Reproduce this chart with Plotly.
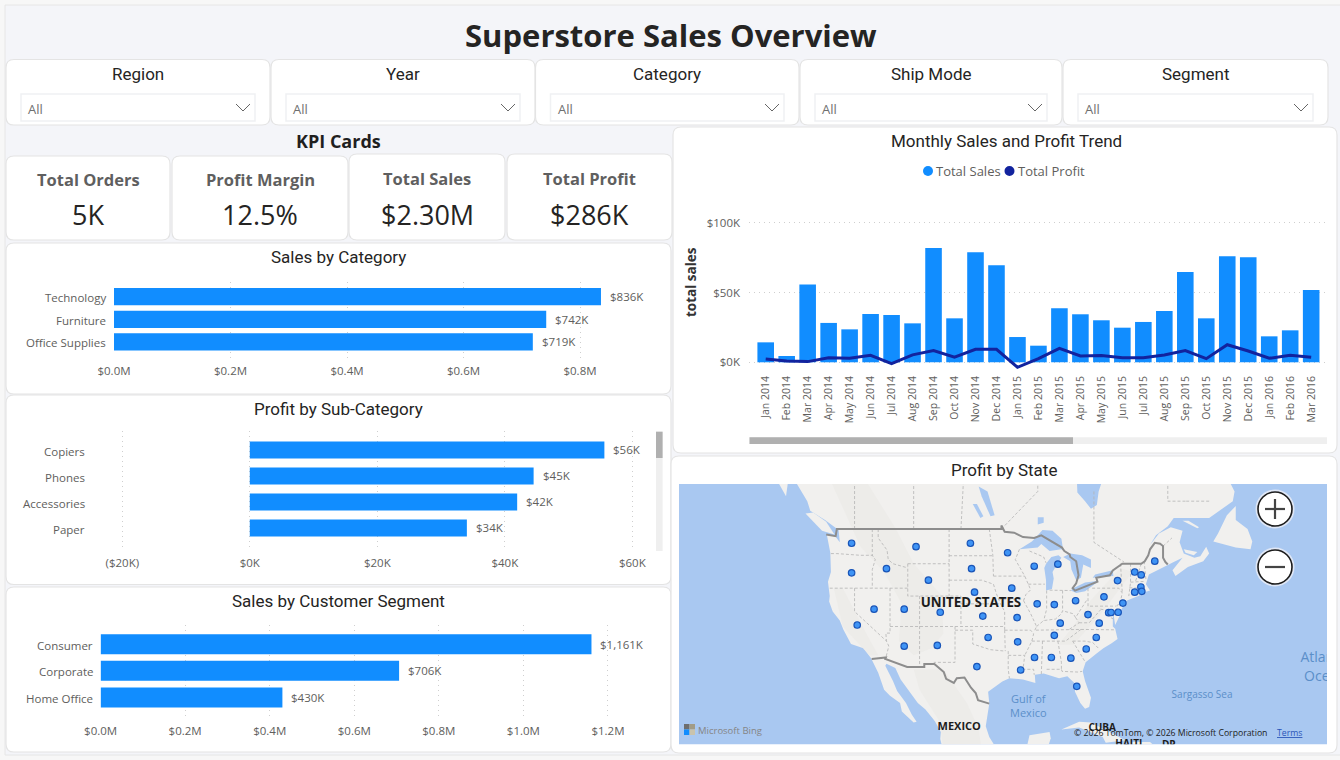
import numpy as np
import plotly.graph_objects as go

W, H = 1340, 760

# ---- chart data -------------------------------------------------------------
category_names = ["Technology", "Furniture", "Office Supplies"]
category_sales_k = [836, 742, 719]

subcat_names = ["Copiers", "Phones", "Accessories", "Paper"]
subcat_profit_k = [55.62, 44.52, 41.94, 34.05]

segment_names = ["Consumer", "Corporate", "Home Office"]
segment_sales_k = [1161, 706, 430]

months = ["Jan 2014", "Feb 2014", "Mar 2014", "Apr 2014", "May 2014", "Jun 2014", "Jul 2014",
          "Aug 2014", "Sep 2014", "Oct 2014", "Nov 2014", "Dec 2014", "Jan 2015", "Feb 2015",
          "Mar 2015", "Apr 2015", "May 2015", "Jun 2015", "Jul 2015", "Aug 2015", "Sep 2015",
          "Oct 2015", "Nov 2015", "Dec 2015", "Jan 2016", "Feb 2016", "Mar 2016"]
monthly_sales_k = [14.3, 4.5, 55.8, 28.2, 23.6, 34.6, 33.9, 27.9, 81.8, 31.5, 78.8, 69.5, 18.1, 11.9,
                   38.7, 34.4, 30.1, 24.8, 28.9, 36.8, 64.7, 31.5, 75.9, 75.2, 18.6, 22.9, 51.8]
monthly_profit_k = [2.4, 1.0, 0.5, 3.3, 2.9, 5.0, -1.0, 5.3, 8.4, 3.6, 9.3, 9.3, -3.6, 2.6,
                    10.0, 4.5, 4.8, 3.3, 3.3, 5.3, 8.4, 2.6, 12.6, 8.1, 2.9, 5.0, 3.6]

state_names = ["WA", "MT", "ND", "MN", "OR", "ID", "WY", "SD", "WI", "MI", "NE", "IA", "NV", "UT", "CO",
               "KS", "MO", "IL", "IN", "OH", "PA", "WV", "KY", "VA", "NJ", "DE", "MD", "DC", "CA", "AZ",
               "NM", "OK", "AR", "TN", "NC", "SC", "TX", "LA", "MS", "AL", "GA", "FL", "NY", "VT", "NH",
               "ME", "MA", "CT", "RI"]
state_lon = [-120.5, -109.6, -100.4, -94.1, -120.5, -114.6, -107.5, -100.2, -89.6, -85.6, -99.7, -93.4,
             -116.7, -111.6, -105.5, -98.3, -92.5, -89.1, -86.2, -82.6, -77.8, -80.5, -85.2, -78.6,
             -74.6, -75.4, -77.0, -76.6, -119.55, -111.6, -106.0, -97.4, -92.4, -86.2, -79.1, -80.8,
             -99.3, -91.9, -89.55, -86.7, -83.4, -82.4, -75.5, -72.6, -71.5, -69.2, -71.55, -72.6, -71.4]
state_lat = [47.4, 47.0, 47.4, 46.3, 43.9, 44.4, 43.0, 44.4, 44.7, 44.95, 41.5, 42.0,
             39.3, 39.3, 38.9, 38.4, 38.2, 40.0, 39.9, 40.4, 40.9, 38.6, 37.45, 37.45,
             40.1, 38.9, 38.85, 38.87, 37.2, 34.3, 34.4, 35.5, 34.9, 35.8, 35.5, 33.9,
             31.4, 30.9, 32.7, 32.7, 32.6, 28.5, 42.95, 44.0, 43.65, 45.3, 42.15, 41.5, 41.6]

# ---- basemap outlines as (lon, lat) -----------------------------------------
mainland = [(-133, 56), (-130, 54), (-128, 52), (-127.5, 51), (-125, 50), (-123.3, 49.2), (-122.7, 48.9),
            (-122.5, 47.5), (-123.2, 48.15), (-124.7, 48.4), (-124.1, 46.3), (-124, 44), (-124.5, 42.8),
            (-124.2, 41), (-124.3, 40.3), (-123.7, 39), (-122.5, 37.8), (-121.9, 36.6), (-120.6, 34.6),
            (-118.5, 34), (-117.2, 32.6), (-116, 30.5), (-115, 28), (-114, 27.1), (-112.3, 26), (-112, 24.7),
            (-110, 23), (-109.5, 23.1), (-110.3, 24.2), (-111.3, 26), (-112.8, 27.8), (-113.5, 29.3),
            (-114.8, 31.5), (-114.6, 31.8), (-113.1, 31.2), (-112.2, 29.5), (-110.9, 27.9), (-109.3, 26),
            (-108, 25), (-106.4, 23.2), (-105.4, 21.5), (-105.5, 20.4), (-105, 18.5), (-96.2, 18.5),
            (-96.2, 19.2), (-97.2, 20.7), (-97.8, 22.4), (-97.2, 25.9), (-97.4, 27.7), (-95, 29.2),
            (-93.8, 29.7), (-91.5, 29.5), (-89.4, 29), (-89.5, 30.2), (-88, 30.4), (-85.4, 29.7), (-84, 30),
            (-82.8, 29), (-82.7, 27.7), (-81.8, 26), (-81, 25.1), (-80.3, 25.4), (-80, 26.8), (-81, 29.3),
            (-81.4, 30.7), (-80.9, 32), (-79, 33.3), (-77.9, 34), (-76.5, 34.7), (-75.5, 35.3), (-75.9, 36.7),
            (-76.3, 37), (-76.3, 39.2), (-75.9, 37.2), (-75.1, 38.5), (-74.9, 39.2), (-74, 40.4), (-72, 41),
            (-71, 41.5), (-70, 41.7), (-70.7, 42.5), (-70.2, 43.7), (-68.5, 44.3), (-67, 44.9), (-66, 45.2),
            (-64.5, 45.7), (-66.2, 44.2), (-65.7, 43.5), (-63.6, 44.6), (-61, 45.3), (-60, 46.2), (-60.5, 47),
            (-61.5, 45.9), (-62.5, 45.7), (-64.3, 46.2), (-65, 47.5), (-64.5, 48.8), (-66.5, 49.2),
            (-68.5, 48.5), (-70, 47.2), (-69, 48.3), (-67, 49.3), (-66, 50.2), (-60, 50.2), (-57, 51.5),
            (-56, 52), (-55.7, 53), (-57, 54.5), (-57, 56), (-133, 56)]
newfoundland = [(-59.3, 47.6), (-55.5, 46.9), (-53, 46.7), (-52.7, 47.6), (-53.5, 49), (-55.5, 50),
                (-55.5, 51.5), (-57, 50.5), (-58.5, 48.5)]
vancouver_isl = [(-128.3, 50.7), (-125.5, 48.8), (-123.4, 48.4), (-124.8, 49.8), (-127, 50.8)]
haida_gwaii = [(-133, 54), (-131.6, 52.5), (-131.3, 53.8)]
cuba = [(-85, 21.9), (-82, 23.1), (-80, 23), (-75, 20.7), (-74.2, 20.2), (-77.5, 19.8), (-78, 20.7), (-82, 22.2)]
hispaniola = [(-74.5, 18.5), (-73, 19.9), (-70, 19.9), (-68.4, 18.6)]
yucatan = [(-91, 18.5), (-90.4, 21), (-87, 21.5), (-86.8, 20.5), (-87.5, 18.5)]
anticosti = [(-64.5, 49.9), (-62, 49.1), (-61.7, 49.2), (-63.5, 49.9)]
pei = [(-64.3, 46.7), (-62, 46.4), (-62.6, 46.0), (-64, 46.3)]

lake_superior = [(-92.1, 46.7), (-90, 47.6), (-89.4, 48), (-88.2, 48.9), (-86.5, 48.8), (-85, 47.9), (-84.7, 46.6),
                 (-85, 46.7), (-87, 46.5), (-88.4, 47.3), (-89, 46.9), (-90.8, 46.8)]
lake_michigan = [(-87.6, 41.7), (-86.6, 41.9), (-86.3, 43.2), (-86.5, 44), (-85.7, 45), (-85, 45.7), (-85.5, 46),
                 (-86.7, 45.8), (-87.6, 45), (-87.9, 44.5), (-87.6, 43)]
lake_huron = [(-84.7, 45.8), (-83.5, 45.3), (-83.3, 44.3), (-82.5, 43), (-81.7, 43.3), (-81.3, 44.9), (-80, 44.5),
              (-80, 45.5), (-81.5, 46), (-83.5, 46.2)]
lake_erie = [(-83.4, 41.7), (-82.5, 41.4), (-81, 41.6), (-79, 42.7), (-79, 42.9), (-81, 42.7), (-83, 42)]
lake_ontario = [(-79.7, 43.3), (-76.2, 43.5), (-76.3, 44.2), (-77.5, 44), (-79.3, 43.7)]
lake_winnipeg = [(-97, 50.4), (-96.3, 50.5), (-97.5, 53), (-99, 53.5), (-98.5, 52.5)]
lake_manitoba = [(-98.7, 50.2), (-98.2, 50.4), (-99.3, 51.7), (-100, 51.7)]
lake_nipigon = [(-89, 49.5), (-88, 49.7), (-88, 50.3), (-89, 50.3)]
james_bay = [(-82.5, 56), (-82.3, 52.9), (-81, 52), (-80, 51.2), (-79, 51.6), (-78.7, 53), (-77, 56)]

relief_rockies = [(-118, 54), (-113, 49), (-110, 45), (-105.2, 41), (-105, 36), (-107, 34), (-110, 33),
                  (-112.5, 35), (-112, 40), (-115, 44), (-119, 47), (-124, 54)]
relief_sierra = [(-123.5, 42), (-122, 42), (-118, 36), (-116, 33), (-117.5, 33), (-122, 37)]
relief_appalachia = [(-85.5, 34.5), (-83, 34.5), (-78.5, 38.5), (-75, 42), (-73, 44), (-75, 44.5), (-80, 40.5), (-83, 37)]
relief_madre = [(-110, 31), (-105, 31), (-101, 26), (-99, 22), (-98.5, 18.5), (-105, 18.5), (-105.5, 23), (-109, 28)]

# Borders between the US and its neighbours.
border_canada = [(-124.8, 48.4), (-123.2, 48.2), (-123, 49), (-95.15, 49), (-95.15, 49.4), (-94.6, 48.7), (-93, 48.6),
                 (-91.5, 48.1), (-89.6, 48), (-88.4, 48.3), (-84.9, 46.9), (-84.5, 46.5), (-83.6, 46.1), (-83.5, 45.8),
                 (-82.5, 45.3), (-82.1, 43.6), (-82.5, 42.6), (-83.1, 42), (-82.7, 41.7), (-78.9, 42.8), (-79.1, 43.3),
                 (-76.8, 43.6), (-76.3, 44.2), (-74.7, 45), (-71.5, 45), (-70.9, 45.3), (-70.3, 46), (-70, 46.7),
                 (-69.2, 47.45), (-68.3, 47.35), (-67.8, 47.07), (-67.8, 45.7), (-67.4, 45.2), (-67, 44.9)]
border_mexico = [(-117.1, 32.5), (-114.7, 32.7), (-114.8, 32.5), (-111.1, 31.33), (-108.2, 31.33), (-108.2, 31.78),
                 (-106.5, 31.78), (-104.9, 30.6), (-104.5, 29.6), (-103.2, 29), (-102.7, 29.7), (-101.4, 29.8),
                 (-100.3, 28.3), (-99.5, 27.5), (-99.1, 26.4), (-97.2, 25.9)]

admin_lines = [
    [(-124, 46.2), (-123, 46.2), (-119, 46), (-116.9, 46)], [(-117, 49), (-117, 46), (-116.5, 45.5), (-117, 44.3), (-117, 42)],
    [(-124.2, 42), (-111, 42)], [(-120, 42), (-120, 39), (-114.6, 35)], [(-114, 42), (-114, 36.1), (-114.7, 36.1), (-114.6, 35),
    (-114.2, 34.3), (-114.7, 32.7)], [(-114, 37), (-94.6, 37)], [(-109, 41), (-109, 31.33)], [(-111, 45), (-111, 41), (-102, 41)],
    [(-104, 45), (-104, 41)], [(-111, 45), (-104, 45)], [(-116, 49), (-116, 48), (-114.5, 46.6), (-114.3, 45.5), (-113.5, 45), (-111, 44.5)],
    [(-104, 49), (-104, 45)], [(-104, 45.95), (-96.6, 45.95)], [(-97.2, 49), (-96.6, 46), (-96.5, 43.5)], [(-104, 43), (-98.5, 43), (-96.5, 42.5)],
    [(-102, 41), (-102, 37)], [(-102, 40), (-95.3, 40)], [(-96.5, 42.5), (-96, 41.3), (-95.3, 40), (-94.6, 39), (-94.6, 36.5)],
    [(-103, 37), (-103, 32), (-106.6, 32)], [(-103, 36.5), (-100, 36.5), (-100, 34.6), (-97, 33.8), (-94.5, 33.6)],
    [(-94.6, 36.5), (-94.5, 33.6)], [(-94, 33.6), (-94, 31), (-93.8, 29.7)], [(-94, 33), (-91.2, 33), (-91.5, 31), (-89.7, 31), (-89.6, 30.2)],
    [(-94.6, 36.5), (-90.2, 36.5), (-89.7, 36), (-90, 35), (-91.2, 33)], [(-90, 35), (-84.3, 35), (-81.7, 36.6), (-89.5, 36.5)],
    [(-88.2, 35), (-88.4, 30.3)], [(-85.6, 35), (-85, 32), (-85, 31)], [(-87.5, 31), (-85, 31), (-84.9, 30.7), (-82.2, 30.6), (-81.5, 30.7)],
    [(-83.1, 35), (-81, 32.1)], [(-83.1, 35), (-81, 35), (-79.7, 34.8), (-78.6, 33.9)],
    [(-91.4, 40.4), (-90.2, 38.7), (-89.2, 37), (-89.5, 36.5)], [(-91.4, 40.4), (-91, 41.2), (-90.2, 41.8), (-91.2, 43.5)],
    [(-95.7, 40.6), (-91.4, 40.6)], [(-96.5, 43.5), (-91.2, 43.5)], [(-92.1, 46.7), (-92.8, 45.5), (-91.2, 43.5)],
    [(-90.6, 42.5), (-87.8, 42.5)], [(-90.4, 46.5), (-88, 45.8), (-87.6, 45.1)], [(-87.5, 41.7), (-87.5, 39.3), (-88, 37.8)],
    [(-84.8, 41.7), (-84.8, 39.1)], [(-87, 41.75), (-83.4, 41.7)], [(-89.2, 37), (-88, 37.8), (-86, 38), (-85, 38.7), (-84.8, 39.1),
    (-83, 38.7), (-82.6, 38.2), (-80.7, 40.5)], [(-82.6, 38.2), (-82, 37.5), (-83.7, 36.6)], [(-82, 37.5), (-80.3, 37.5), (-78.4, 39.2)],
    [(-80.5, 42), (-80.5, 39.7), (-75.8, 39.7)], [(-79.8, 42), (-75.3, 42), (-74.7, 41.4), (-75.1, 40), (-75.6, 39.8), (-75.6, 38.5)],
    [(-78.4, 39.3), (-77.5, 39.2), (-76.9, 38.3), (-76.2, 38)], [(-81.7, 36.6), (-75.9, 36.55)], [(-73.3, 45), (-73.3, 42.7), (-73.6, 41)],
    [(-73.5, 42.05), (-71.4, 42)], [(-73.3, 42.75), (-70.8, 42.85)], [(-71.8, 42), (-71.8, 41.4)], [(-71.5, 45), (-72.5, 42.75)],
    [(-71, 45.3), (-70.7, 43.1)], [(-75, 45), (-74.7, 41.4)], [(-120, 49), (-120, 56)], [(-110, 49), (-110, 56)], [(-102, 49), (-101.4, 56)],
    [(-95.15, 49), (-89, 53), (-89, 56)], [(-79.5, 53), (-79.5, 47.5), (-74.4, 45.2)], [(-67.8, 47.07), (-66.3, 48)],
    [(-64, 52), (-67, 52), (-67, 56)], [(-60, 52), (-64, 52)],
]

# ---- projection and pixel helpers -------------------------------------------
def merc(lat):
    return np.arcsinh(np.tan(np.radians(lat)))

def fx(px):
    return px / W

def fy(py):
    return 1 - py / H

def xdom(a, b):
    return [fx(a), fx(b)]

def ydom(top, bottom):
    return [fy(bottom), fy(top)]

shapes, annots = [], []

def rrect(x0, y0, x1, y1, r=8, fill="white", line="#e4e4e4", lw=1.2, layer="below"):
    p = (f"M{fx(x0+r)},{fy(y0)} L{fx(x1-r)},{fy(y0)} Q{fx(x1)},{fy(y0)} {fx(x1)},{fy(y0+r)} "
         f"L{fx(x1)},{fy(y1-r)} Q{fx(x1)},{fy(y1)} {fx(x1-r)},{fy(y1)} L{fx(x0+r)},{fy(y1)} "
         f"Q{fx(x0)},{fy(y1)} {fx(x0)},{fy(y1-r)} L{fx(x0)},{fy(y0+r)} Q{fx(x0)},{fy(y0)} {fx(x0+r)},{fy(y0)} Z")
    shapes.append(dict(type="path", path=p, xref="paper", yref="paper", fillcolor=fill,
                       line=dict(color=line, width=lw), layer=layer))

def box(x0, y0, x1, y1, fill, line=None, lw=0, layer="below"):
    shapes.append(dict(type="rect", xref="paper", yref="paper", x0=fx(x0), x1=fx(x1), y0=fy(y1), y1=fy(y0),
                       fillcolor=fill, line=dict(color=line or fill, width=lw), layer=layer))

def seg(points, color, lw=1.2, layer="above"):
    p = "M" + " L".join(f"{fx(a)},{fy(b)}" for a, b in points)
    shapes.append(dict(type="path", path=p, xref="paper", yref="paper",
                       line=dict(color=color, width=lw), layer=layer))

def circle(cx, cy, r, fill, line=None, lw=0, layer="above"):
    shapes.append(dict(type="circle", xref="paper", yref="paper", x0=fx(cx-r), x1=fx(cx+r), y0=fy(cy+r), y1=fy(cy-r),
                       fillcolor=fill, line=dict(color=line or fill, width=lw), layer=layer))

def label(px, py, text, size=12, color="#252423", family="Open Sans", bold=False, anchor="center"):
    shown = f"<b>{text}</b>" if bold else text
    annots.append(dict(xref="paper", yref="paper", x=fx(px), y=fy(py), text=shown, showarrow=False,
                       xanchor=anchor, yanchor="middle", borderpad=0,
                       font=dict(size=size, color=color, family=family)))

TITLE_FONT = "Roboto"
TICK_FONT = "Open Sans"
TICK_COLOR = "#605E5C"
BAR = "#118DFF"
LINE = "#12239E"
GRID = "#cfcfcf"
GRID_DASH = "1px,4px"
OCEAN = "#a9c8f1"
LAND = "#f1f0ee"

# ---- page background and cards ----------------------------------------------
box(0, 0, W, H, "#f7f7f7")
box(5, 5, W + 5, 755, "#f4f5f9", "#e6e6e6", 1)
label(671, 35, "Superstore Sales Overview", 31, "#252423", "Open Sans", True)

slicers = [("Region", 6, 270), ("Year", 271, 535), ("Category", 535.5, 799), ("Ship Mode", 800, 1062), ("Segment", 1063, 1328)]
for name, a, b in slicers:
    rrect(a, 59.5, b, 125)
    label((a + b) / 2, 74.5, name, 17, "#252423", TITLE_FONT)
    box(a + 15, 94, b - 15, 121, "white", "#f0f1f3", 1.5)
    label(a + 21, 109, "All", 13, "#6f6f6f", "Open Sans", anchor="left")
    seg([(b - 34, 104), (b - 27, 111), (b - 20, 104)], "#666666", 1)

label(339, 141, "KPI Cards", 18, "#1f1f1f", "Open Sans", True)
kpis = [("Total Orders", "5K", 6, 170, 156), ("Profit Margin", "12.5%", 172, 348, 156),
        ("Total Sales", "$2.30M", 349, 505, 154), ("Total Profit", "$286K", 507, 672, 154)]
for name, value, a, b, top in kpis:
    rrect(a, top, b, 240)
    label((a + b) / 2, top + 24 + (156 - top) * 0.2, name, 16.5, "#5f5f5f", "Open Sans", True)
    label((a + b) / 2, 214, value, 27, "#252423", "Open Sans")

rrect(6, 243, 671, 394)
rrect(6, 395, 671, 584.5)
rrect(6, 587, 671, 752)
rrect(673, 127, 1337, 453)
rrect(671, 456, 1337, 753)

label(339, 257, "Sales by Category", 17, "#252423", TITLE_FONT)
label(339, 409, "Profit by Sub-Category", 17, "#252423", TITLE_FONT)
label(339, 601, "Sales by Customer Segment", 17, "#252423", TITLE_FONT)
label(1006, 141, "Monthly Sales and Profit Trend", 17, "#252423", TITLE_FONT)
label(1004, 470, "Profit by State", 17, "#252423", TITLE_FONT)

fig = go.Figure()

def axis_style(**kw):
    base = dict(showline=False, zeroline=False, ticks="", automargin=False,
                tickfont=dict(size=11.5, color=TICK_COLOR, family=TICK_FONT), fixedrange=True)
    base.update(kw)
    return base

def hbar(idx, names, values, text, x_dom, y_dom, xrange, yrange, tickvals, ticktext, width, gap, x_standoff, name_shift):
    xa, ya = f"x{idx}", f"y{idx}"
    fig.add_trace(go.Bar(y=names, x=values, orientation="h", xaxis=xa, yaxis=ya, width=width,
                         marker=dict(color=BAR, line=dict(width=0)), showlegend=False, hoverinfo="skip"))
    fig.layout[f"xaxis{idx}"] = axis_style(domain=x_dom, range=xrange, anchor=ya, tickmode="array", tickvals=tickvals,
                                           ticktext=ticktext, showgrid=True, gridcolor=GRID, griddash=GRID_DASH, gridwidth=1,
                                           ticklabelstandoff=x_standoff)
    fig.layout[f"yaxis{idx}"] = axis_style(domain=y_dom, range=yrange, anchor=xa, type="category", categoryorder="array",
                                           categoryarray=names, showgrid=False, showticklabels=False)
    for n, v, t in zip(names, values, text):
        annots.append(dict(xref=xa, yref=ya, x=v, y=n, text=t, showarrow=False, xanchor="left", xshift=7,
                           font=dict(size=11.5, color=TICK_COLOR, family=TICK_FONT)))
        annots.append(dict(xref=f"{xa} domain", yref=ya, x=0, y=n, text=n, showarrow=False, xanchor="right", xshift=-gap,
                           yshift=name_shift, font=dict(size=11.5, color=TICK_COLOR, family=TICK_FONT)))

# Sales by Category: 582.5 px per $M from the zero line at x=114
s1 = 0.5825
hbar(2, category_names, category_sales_k, [f"${v}K" for v in category_sales_k],
     xdom(114, 650), ydom(281.7, 360.7), [0, (650 - 114) / s1], [2.83, -0.664],
     [0, 200, 400, 600, 800], [f"${v / 1000:.1f}M" for v in [0, 200, 400, 600, 800]], 0.76, 6, 2, -1)

# Profit by Sub-Category
s2 = 6.375
hbar(3, subcat_names, subcat_profit_k, [f"${v:.0f}K" for v in subcat_profit_k],
     xdom(88, 650), ydom(431, 551), [(88 - 249.8) / s2, (650 - 249.8) / s2], [3.885, -0.73],
     [-20, 0, 20, 40, 60], ["($20K)", "$0K", "$20K", "$40K", "$60K"], 0.654, 1, 3, -2)
box(656, 431.7, 662.6, 551, "#efefef", layer="above")
box(656, 431.7, 662.6, 458, "#b0b0b0", layer="above")

# Sales by Customer Segment
s3 = 0.4228
hbar(6, segment_names, segment_sales_k, [f"${v:,}K" for v in segment_sales_k],
     xdom(100.6, 655), ydom(625, 718), [0, (655 - 100.6) / s3], [2.774, -0.722],
     [0, 200, 400, 600, 800, 1000, 1200], [f"${v / 1000:.1f}M" for v in [0, 200, 400, 600, 800, 1000, 1200]], 0.75, 6, 4, -1)

# Monthly trend: combo of columns and a profit line
pitch = 20.98
px_per_k = 1.396
fig.add_trace(go.Bar(x=months, y=monthly_sales_k, xaxis="x4", yaxis="y4", width=0.79, name="Total Sales",
                     marker=dict(color=BAR, line=dict(width=0)), showlegend=False, hoverinfo="skip"))
fig.add_trace(go.Scatter(x=months, y=monthly_profit_k, xaxis="x4", yaxis="y4", mode="lines", name="Total Profit",
                         line=dict(color=LINE, width=3), cliponaxis=False, showlegend=False, hoverinfo="skip"))
fig.layout["xaxis4"] = axis_style(domain=xdom(749, 1327), range=[(749 - 765.7) / pitch, (1327 - 765.7) / pitch], anchor="y4",
                                  type="category", categoryorder="array", categoryarray=months, tickangle=-90,
                                  tickmode="array", tickvals=months, ticktext=months, showgrid=False,
                                  tickfont=dict(size=10.5, color=TICK_COLOR, family=TICK_FONT), ticklabelstandoff=3)
fig.layout["yaxis4"] = axis_style(domain=ydom(205, 370), range=[(362.3 - 370) / px_per_k, (362.3 - 205) / px_per_k], anchor="x4",
                                  tickmode="array", tickvals=[0, 50, 100], ticktext=["$0K", "$50K", "$100K"],
                                  showgrid=True, gridcolor=GRID, griddash=GRID_DASH, gridwidth=1, ticklabelstandoff=8)
circle(928, 171, 5, BAR)
label(935, 171, "Total Sales", 13, "#605E5C", "Open Sans", anchor="left")
circle(1009.5, 171, 5, LINE)
label(1017, 171, "Total Profit", 13, "#605E5C", "Open Sans", anchor="left")
label(691, 282, "total sales", 13.5, "#333333", "Open Sans", True)
annots[-1]["textangle"] = -90
box(749.5, 437.3, 1327, 444, "#efefef")
box(749.5, 437.3, 1073, 444, "#b0b0b0")

# Map: filled outlines projected to Mercator, state points on top
def poly(points, fill, opacity=1.0):
    lon = [p[0] for p in points] + [points[0][0]]
    lat = [p[1] for p in points] + [points[0][1]]
    fig.add_trace(go.Scatter(x=lon, y=merc(np.array(lat)), xaxis="x5", yaxis="y5", mode="lines", fill="toself", fillcolor=fill,
                             line=dict(width=0, color=fill), opacity=opacity, showlegend=False, hoverinfo="skip"))

for land in [mainland, newfoundland, vancouver_isl, haida_gwaii, cuba, hispaniola, yucatan, anticosti, pei]:
    poly(land, LAND)
for rel in [relief_rockies, relief_sierra, relief_appalachia, relief_madre]:
    poly(rel, "#ebeae7", 0.7)
for lake in [lake_superior, lake_michigan, lake_huron, lake_erie, lake_ontario, lake_winnipeg, lake_manitoba, lake_nipigon, james_bay]:
    poly(lake, OCEAN)

admin_lon, admin_lat = [], []
for run in admin_lines:
    admin_lon += [p[0] for p in run] + [None]
    admin_lat += [float(merc(p[1])) for p in run] + [None]
fig.add_trace(go.Scatter(x=admin_lon, y=admin_lat, xaxis="x5", yaxis="y5", mode="lines",
                         line=dict(color="#b4b4b4", width=0.8, dash="3px,2px"), showlegend=False, hoverinfo="skip"))
for run in [border_canada, border_mexico]:
    fig.add_trace(go.Scatter(x=[p[0] for p in run], y=merc(np.array([p[1] for p in run])), xaxis="x5", yaxis="y5", mode="lines",
                             line=dict(color="#8d8d8d", width=2), showlegend=False, hoverinfo="skip"))

place_names = ["UNITED STATES", "MEXICO", "CUBA", "HAITI", "DR"]
place_lon = [-100.3, -102.3, -78.1, -73.6, -66.8]
place_lat = [40.0, 22.3, 22.0, 19.5, 19.4]
fig.add_trace(go.Scatter(x=place_lon, y=merc(np.array(place_lat)), xaxis="x5", yaxis="y5", mode="text", text=[f"<b>{n}</b>" for n in place_names],
                         textposition="middle center", textfont=dict(size=[13.3, 11, 10, 10, 10], color="#1c1c1c", family="Open Sans"),
                         showlegend=False, hoverinfo="skip"))
sea_names = ["Gulf of<br>Mexico", "Sargasso Sea", "Atlantic<br>Ocean"]
sea_lon = [-90.6, -61.2, -40.4]
sea_lat = [25.3, 27.1, 31.2]
fig.add_trace(go.Scatter(x=sea_lon, y=merc(np.array(sea_lat)), xaxis="x5", yaxis="y5", mode="text", text=sea_names,
                         textposition="middle center", textfont=dict(size=[11, 10, 14], color="#5b8fc9", family="Open Sans"),
                         showlegend=False, hoverinfo="skip"))

fig.add_trace(go.Scatter(x=state_lon, y=merc(np.array(state_lat)), xaxis="x5", yaxis="y5", mode="markers", text=state_names,
                         marker=dict(size=6.5, color="#3f94f5", line=dict(color="#1a55b8", width=1.2)),
                         showlegend=False, hoverinfo="skip"))

lon_per_px = 1 / 5.91
merc_per_px = 1 / 338.6
lon0 = -120.5 + (679 - 851.6) * lon_per_px
lon1 = -120.5 + (1327 - 851.6) * lon_per_px
m0 = 0.9417 - (744.3 - 543.3) * merc_per_px
m1 = 0.9417 + (543.3 - 484) * merc_per_px
fig.layout["xaxis5"] = dict(domain=xdom(679, 1327), range=[lon0, lon1], anchor="y5", visible=False, fixedrange=True, automargin=False)
fig.layout["yaxis5"] = dict(domain=ydom(484, 744.3), range=[m0, m1], anchor="x5", visible=False, fixedrange=True, automargin=False)
shapes.append(dict(type="rect", xref="x5 domain", yref="y5 domain", x0=0, x1=1, y0=0, y1=1, fillcolor=OCEAN,
                   line=dict(width=0), layer="below"))

# Map furniture
for cy, plus in [(509, True), (567, False)]:
    circle(1275, cy, 19.5, "#dfe7f6")
    circle(1275, cy, 17, "white", "#1c1c1c", 1.6)
    seg([(1265, cy), (1285, cy)], "#444444", 2.2)
    if plus:
        seg([(1275, cy - 10), (1275, cy + 10)], "#444444", 2.2)
box(684, 724, 689.5, 729.5, "#6e6e6e", layer="above")
box(689.5, 724, 695, 729.5, "#a29c86", layer="above")
box(684, 729.5, 689.5, 735, "#118DFF", layer="above")
box(689.5, 729.5, 695, 735, "#c9c3ad", layer="above")
label(697, 730, "Microsoft Bing", 9.5, "#858585", "Open Sans", anchor="left")
label(1073, 733, "© 2026 TomTom, © 2026 Microsoft Corporation", 8.7, "#1c1c1c", "Open Sans", anchor="left")
label(1276, 733, "<u>Terms</u>", 8.7, "#2a55b8", "Open Sans", anchor="left")

fig.update_layout(template="none", width=W, height=H, margin=dict(l=0, r=0, t=0, b=0, pad=0), autosize=False,
                  paper_bgcolor="#f4f5f9", plot_bgcolor="rgba(0,0,0,0)", showlegend=False,
                  shapes=shapes, annotations=annots, bargap=0.2, font=dict(family="Open Sans"), hovermode=False)

fig.write_html("out.html", config=dict(displayModeBar=False))
